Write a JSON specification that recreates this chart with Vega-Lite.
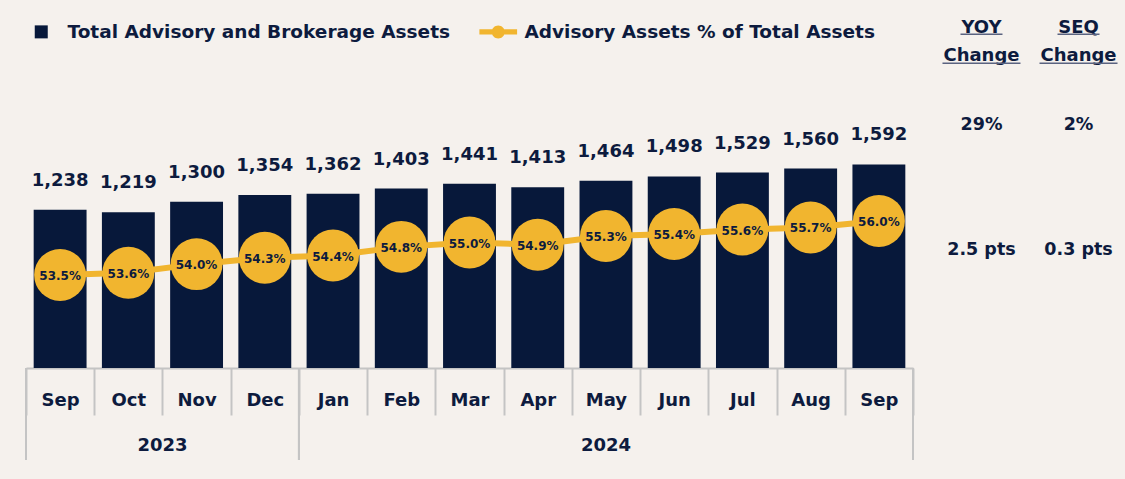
{
  "$schema": "https://vega.github.io/schema/vega-lite/v6.json",
  "background": "#f5f1ed",
  "padding": {"left": 25, "top": 10, "right": 0, "bottom": 18},
  "bounds": "flush",
  "spacing": 22,
  "config": {
    "view": {"stroke": null},
    "font": "DejaVu Sans",
    "text": {"font": "DejaVu Sans", "fontWeight": "bold", "color": "#0d1b3e"}
  },
  "datasets": {
    "monthly": [
      {"period": "Sep 2023", "assets": 1238, "pct": 0.535},
      {"period": "Oct 2023", "assets": 1219, "pct": 0.536},
      {"period": "Nov 2023", "assets": 1300, "pct": 0.540},
      {"period": "Dec 2023", "assets": 1354, "pct": 0.543},
      {"period": "Jan 2024", "assets": 1362, "pct": 0.544},
      {"period": "Feb 2024", "assets": 1403, "pct": 0.548},
      {"period": "Mar 2024", "assets": 1441, "pct": 0.550},
      {"period": "Apr 2024", "assets": 1413, "pct": 0.549},
      {"period": "May 2024", "assets": 1464, "pct": 0.553},
      {"period": "Jun 2024", "assets": 1498, "pct": 0.554},
      {"period": "Jul 2024", "assets": 1529, "pct": 0.556},
      {"period": "Aug 2024", "assets": 1560, "pct": 0.557},
      {"period": "Sep 2024", "assets": 1592, "pct": 0.560}
    ],
    "years": [
      {"year": "2023", "first": "Sep 2023", "last": "Dec 2023", "mid": "Nov 2023"},
      {"year": "2024", "first": "Jan 2024", "last": "Sep 2024", "mid": "May 2024"}
    ],
    "table": [
      {"col": "YOY", "row": "Assets", "value": "29%"},
      {"col": "SEQ", "row": "Assets", "value": "2%"},
      {"col": "YOY", "row": "Advisory", "value": "2.5 pts"},
      {"col": "SEQ", "row": "Advisory", "value": "0.3 pts"}
    ],
    "headers": [
      {"col": "YOY", "top": "YOY", "bottom": "Change"},
      {"col": "SEQ", "top": "SEQ", "bottom": "Change"}
    ]
  },
  "resolve": {"scale": {"color": "independent"}},
  "hconcat": [
    {
      "width": 887,
      "height": 358,
      "layer": [
        {
          "layer": [
            {
              "data": {"name": "monthly"},
              "mark": {"type": "bar", "width": {"band": 0.775}},
              "encoding": {
                "x": {
                  "field": "period", "type": "ordinal", "sort": null, "title": null,
                  "scale": {"domain": ["Sep 2023","Oct 2023","Nov 2023","Dec 2023","Jan 2024","Feb 2024","Mar 2024","Apr 2024","May 2024","Jun 2024","Jul 2024","Aug 2024","Sep 2024"], "paddingInner": 0, "paddingOuter": 0},
                  "axis": {
                    "title": null, "labelExpr": "split(datum.label, ' ')[0]", "labelAngle": 0,
                    "labelFont": "DejaVu Sans", "labelFontWeight": "bold", "labelFontSize": 18,
                    "labelColor": "#0d1b3e", "labelBaseline": "alphabetic", "labelPadding": -10,
                    "tickBand": "extent", "tickSize": 47, "tickColor": "#c4c4c4", "tickWidth": 2,
                    "domainColor": "#c4c4c4", "domainWidth": 2, "grid": false, "labelOverlap": false
                  }
                },
                "y": {"field": "assets", "type": "quantitative", "scale": {"domain": [0, 2794]}, "axis": null},
                "color": {
                  "datum": "Total Advisory and Brokerage Assets", "type": "nominal",
                  "scale": {"domain": ["Total Advisory and Brokerage Assets", "Advisory Assets % of Total Assets"], "range": ["#07183a", "#f1b52f"]},
                  "legend": {
                    "title": null, "orient": "none", "legendX": 6, "legendY": 12.5, "padding": 0, "direction": "horizontal",
                    "labelFont": "DejaVu Sans", "labelFontWeight": "bold", "labelFontSize": 18.5, "labelColor": "#0d1b3e",
                    "labelLimit": 0, "labelOffset": 17, "symbolSize": 169, "columnPadding": 29, "symbolStrokeWidth": 0,
                    "symbolOpacity": 1,
                    "encode": {
                      "symbols": {
                        "update": {
                          "shape": {"signal": "datum.value === 'Total Advisory and Brokerage Assets' ? 'square' : 'M-2.9,-0.4H2.9V0.4H-2.9Z M1,0A1,1 0 1,1 -1,0A1,1 0 1,1 1,0Z'"},
                          "fill": {"signal": "datum.value === 'Total Advisory and Brokerage Assets' ? '#07183a' : '#f1b52f'"},
                          "strokeWidth": {"value": 0},
                          "opacity": {"value": 1}
                        }
                      }
                    }
                  }
                }
              }
            },
            {
              "data": {"name": "monthly"},
              "mark": {"type": "text", "dy": -24, "baseline": "alphabetic", "fontSize": 18},
              "encoding": {
                "x": {"field": "period", "type": "ordinal", "sort": null, "title": null},
                "y": {"field": "assets", "type": "quantitative"},
                "text": {"field": "assets", "type": "quantitative", "format": ","}
              }
            },
            {
              "data": {"name": "years"},
              "mark": {"type": "rule", "color": "#c4c4c4", "strokeWidth": 2, "y2Offset": 92},
              "encoding": {
                "x": {"field": "first", "type": "ordinal", "bandPosition": 0, "title": null},
                "y": {"datum": 0, "type": "quantitative"},
                "y2": {"datum": 0}
              }
            },
            {
              "data": {"name": "years"},
              "mark": {"type": "rule", "color": "#c4c4c4", "strokeWidth": 2, "y2Offset": 92},
              "encoding": {
                "x": {"field": "last", "type": "ordinal", "bandPosition": 1, "title": null},
                "y": {"datum": 0, "type": "quantitative"},
                "y2": {"datum": 0}
              }
            },
            {
              "data": {"name": "years"},
              "transform": [{"filter": "datum.year == '2023'"}],
              "mark": {"type": "text", "yOffset": 82.7, "baseline": "alphabetic", "fontSize": 18},
              "encoding": {
                "x": {"field": "mid", "type": "ordinal", "bandPosition": 0, "title": null},
                "y": {"datum": 0, "type": "quantitative"},
                "text": {"field": "year"}
              }
            },
            {
              "data": {"name": "years"},
              "transform": [{"filter": "datum.year == '2024'"}],
              "mark": {"type": "text", "yOffset": 82.7, "baseline": "alphabetic", "fontSize": 18},
              "encoding": {
                "x": {"field": "mid", "type": "ordinal", "bandPosition": 0.5, "title": null},
                "y": {"datum": 0, "type": "quantitative"},
                "text": {"field": "year"}
              }
            }
          ]
        },
        {
          "data": {"name": "monthly"},
          "encoding": {
            "x": {"field": "period", "type": "ordinal", "sort": null, "title": null},
            "y": {"field": "pct", "type": "quantitative", "scale": {"domain": [0.4919, 0.6577]}, "axis": null}
          },
          "layer": [
            {"mark": {"type": "line", "color": "#f1b52f", "strokeWidth": 6}},
            {
              "mark": {"type": "point", "filled": true, "size": 2700, "opacity": 1},
              "encoding": {"color": {"datum": "Advisory Assets % of Total Assets", "type": "nominal"}}
            },
            {
              "mark": {"type": "text", "fontSize": 12, "baseline": "middle", "dy": 1},
              "encoding": {"text": {"field": "pct", "type": "quantitative", "format": ".1%"}}
            }
          ]
        }
      ],
      "resolve": {"scale": {"y": "independent"}}
    },
    {
      "width": 190,
      "height": 355,
      "encoding": {
        "x": {"field": "col", "type": "ordinal", "sort": null, "title": null, "scale": {"type": "point", "domain": ["YOY", "SEQ"], "padding": 0.479}, "axis": null}
      },
      "layer": [
        {
          "data": {"name": "table"},
          "mark": {"type": "text", "fontSize": 17.5, "baseline": "middle"},
          "encoding": {
            "y": {"field": "row", "type": "ordinal", "title": null, "scale": {"type": "point", "domain": ["Assets", "Advisory"], "padding": 0.92}, "axis": null},
            "text": {"field": "value"}
          }
        },
        {
          "data": {"name": "headers"},
          "mark": {"type": "text", "fontSize": 18, "baseline": "middle", "yOffset": -97.5},
          "encoding": {"y": {"datum": "Assets", "type": "ordinal"}, "text": {"field": "top"}}
        },
        {
          "data": {"name": "headers"},
          "mark": {"type": "text", "fontSize": 18, "baseline": "middle", "yOffset": -69.5},
          "encoding": {"y": {"datum": "Assets", "type": "ordinal"}, "text": {"field": "bottom"}}
        },
        {
          "data": {"name": "headers"},
          "mark": {"type": "rule", "color": "#5a6380", "strokeWidth": 1.5, "yOffset": -90.7, "xOffset": -21, "x2Offset": 21},
          "encoding": {"y": {"datum": "Assets", "type": "ordinal"}, "x2": {"field": "col"}}
        },
        {
          "data": {"name": "headers"},
          "mark": {"type": "rule", "color": "#5a6380", "strokeWidth": 1.5, "yOffset": -61.7, "xOffset": -39, "x2Offset": 39},
          "encoding": {"y": {"datum": "Assets", "type": "ordinal"}, "x2": {"field": "col"}}
        }
      ]
    }
  ]
}
